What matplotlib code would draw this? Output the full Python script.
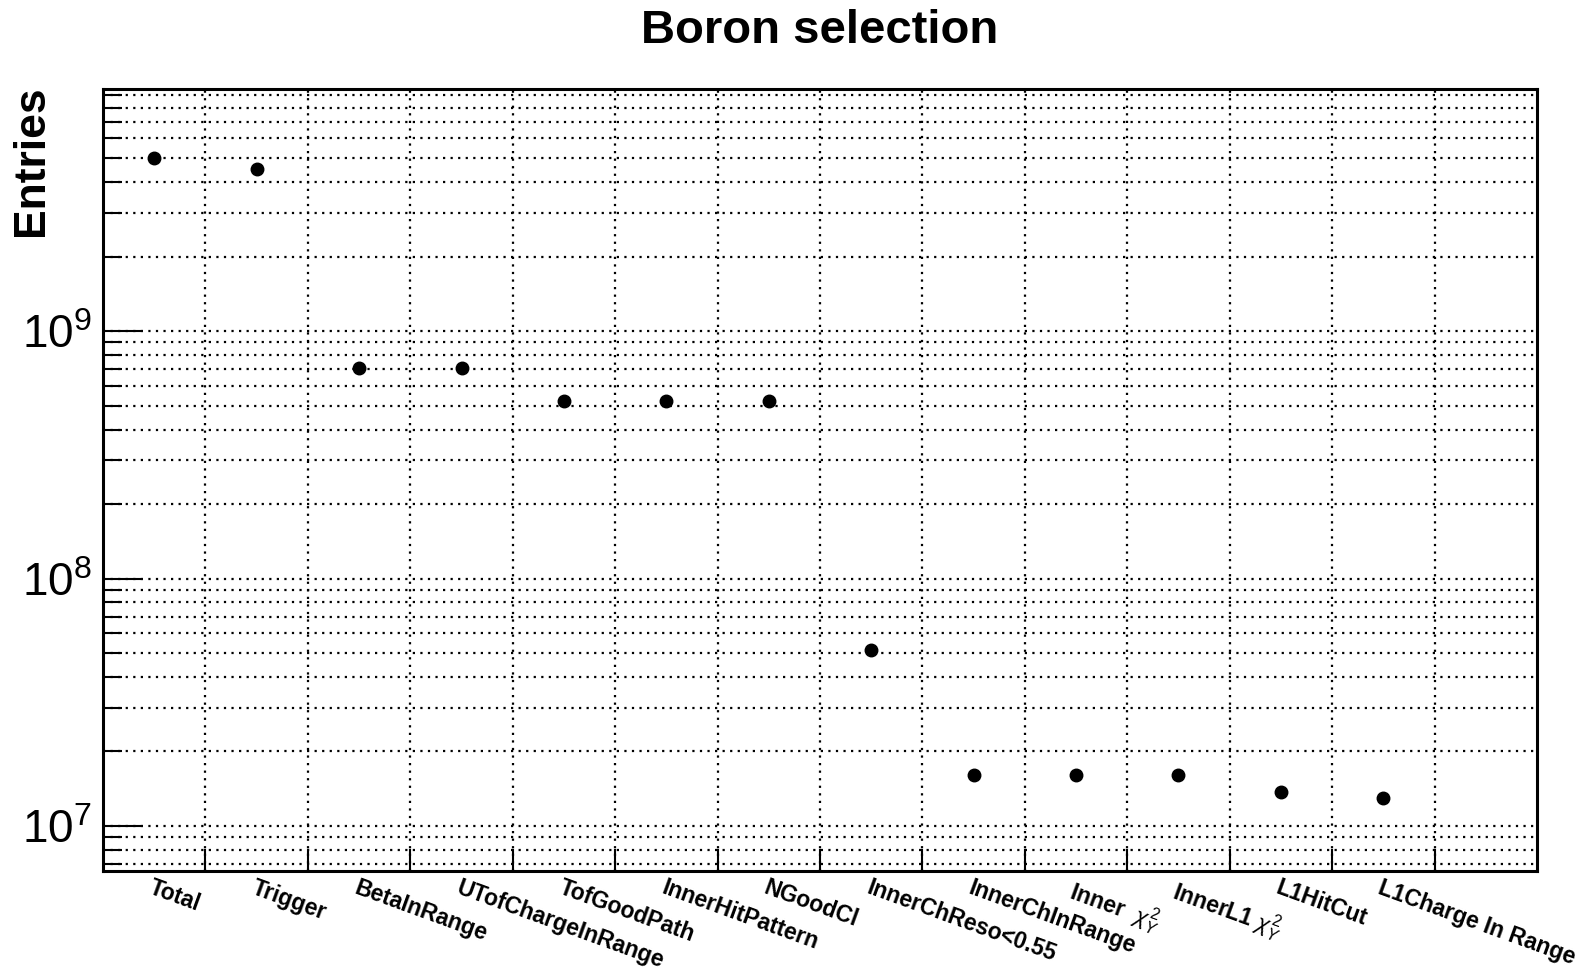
import numpy as np
import matplotlib
matplotlib.use('Agg')
import matplotlib.pyplot as plt
from matplotlib.ticker import LogLocator, LogFormatterMathtext, NullFormatter, FixedLocator

plt.rcParams['font.family'] = ['Liberation Sans', 'DejaVu Sans']
plt.rcParams['mathtext.fontset'] = 'custom'
plt.rcParams['mathtext.rm'] = 'Liberation Sans'
plt.rcParams['mathtext.it'] = 'Liberation Sans:italic'
plt.rcParams['mathtext.bf'] = 'Liberation Sans:bold'

# selection steps and entries
cuts = ['Total', 'Trigger', 'BetaInRange', 'UTofChargeInRange', 'TofGoodPath',
        'InnerHitPattern', 'NGoodCl', 'InnerChReso<0.55', 'InnerChInRange',
        r'Inner  $\chi^2_Y$', r'InnerL1 $\chi^2_Y$', 'L1HitCut', 'L1Charge In Range']
entries = [5.0e9, 4.5e9, 7.1e8, 7.1e8, 5.2e8, 5.2e8, 5.2e8,
           5.15e7, 1.61e7, 1.60e7, 1.60e7, 1.37e7, 1.30e7]
nbins = 14

fig = plt.figure(figsize=(15.95, 9.71), dpi=100)
ax = fig.add_axes([0.0646, 0.103, 0.899, 0.8053])

xc = np.arange(len(cuts)) + 0.5
ax.plot(xc, entries, 'o', color='black', ms=9, zorder=3)

ax.set_yscale('log')
ax.set_xlim(0, nbins)
ax.set_ylim(6.58e6, 9.5e9)

# x axis: labels at bin centres, ticks/grid at bin edges
ax.set_xticks(xc)
ax.set_xticklabels(cuts, rotation=-20, ha='left', va='top',
                   rotation_mode='anchor', fontsize=16.5, fontweight='bold')
ax.xaxis.set_minor_locator(FixedLocator(np.arange(1, nbins)))
ax.tick_params(axis='x', which='major', length=0, pad=4)
ax.tick_params(axis='x', which='minor', direction='in', length=16, width=1.5,
               bottom=True, top=False)

ax.yaxis.set_major_locator(LogLocator(base=10, numticks=20))
ax.yaxis.set_minor_locator(LogLocator(base=10, subs=np.arange(2, 10), numticks=20))
ax.yaxis.set_major_formatter(LogFormatterMathtext())
ax.yaxis.set_minor_formatter(NullFormatter())
ax.tick_params(axis='y', which='major', direction='in', length=29, width=1.5,
               labelsize=33, pad=8, right=False)
ax.tick_params(axis='y', which='minor', direction='in', length=14, width=1.5,
               right=False)

ax.grid(True, which='minor', axis='x', color='black', ls=(0, (1, 2.4)), lw=1.6)
ax.grid(True, which='both', axis='y', color='black', ls=(0, (1, 2.4)), lw=1.6)

for s in ax.spines.values():
    s.set_linewidth(2.2)

ax.set_title('Boron selection', fontsize=34, fontweight='bold', pad=33)
ax.set_ylabel('Entries', fontsize=32, fontweight='bold', loc='top')
ax.yaxis.set_label_coords(-0.0356, 1.005)

fig.savefig('out.png', dpi=100)
